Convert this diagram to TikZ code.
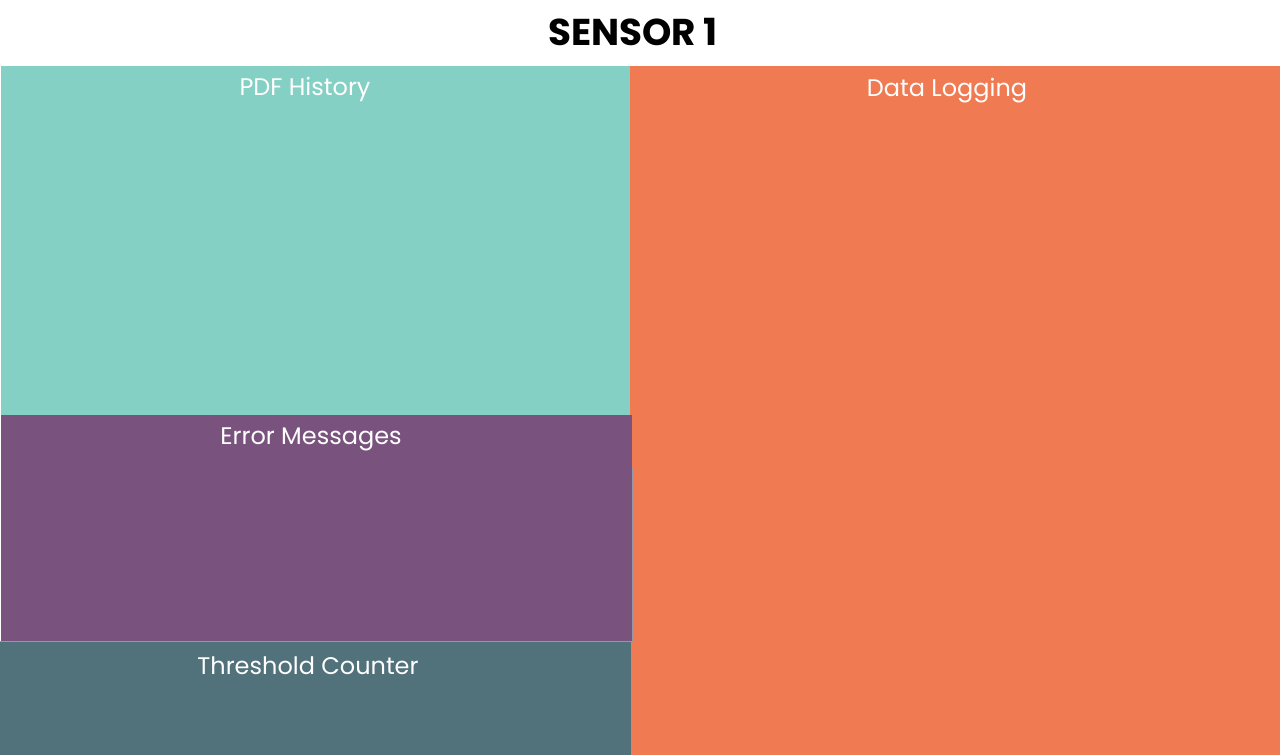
\documentclass[tikz,border=0pt]{standalone}
\usepackage{fontspec}
\setmainfont{Poppins}
\usetikzlibrary{positioning}
\definecolor{panelteal}{RGB}{132,208,196}
\definecolor{panelorange}{RGB}{240,122,82}
\definecolor{panelpurple}{RGB}{121,83,125}
\definecolor{panelslate}{RGB}{81,113,123}
\definecolor{paneledge}{RGB}{150,150,165}
\tikzset{paneltext/.style={text=white, font=\fontsize{18}{21}\selectfont}}
\begin{document}
\begin{tikzpicture}[x=0.75pt,y=-0.75pt]
    \useasboundingbox (0,0) rectangle (1280,755);
    \fill[white] (0,0) rectangle (1280,755);

    % Title
    \node (title) at (633,32) {\fontsize{28}{32}\selectfont\bfseries SENSOR 1};

    % PDF History
    \fill[panelteal] (1,66) rectangle (630,415);
    \node[paneltext] (pdf) at (305,89) {PDF History};

    % Data Logging
    \fill[panelorange] (630,66) rectangle (1280,755);
    \node[paneltext] (log) at (947,91) {Data Logging};

    % Error Messages
    \fill[panelpurple] (1,415) rectangle (632,641);
    \draw[paneledge, line width=0.5pt] (632,468) -- (632,641) -- (0,641);
    \node[paneltext] (err) at (311,439) {Error Messages};

    % Threshold Counter
    \fill[panelslate] (0,641.5) rectangle (631,755);
    \node[paneltext] (thr) at (308,666) {Threshold Counter};
\end{tikzpicture}
\end{document}
